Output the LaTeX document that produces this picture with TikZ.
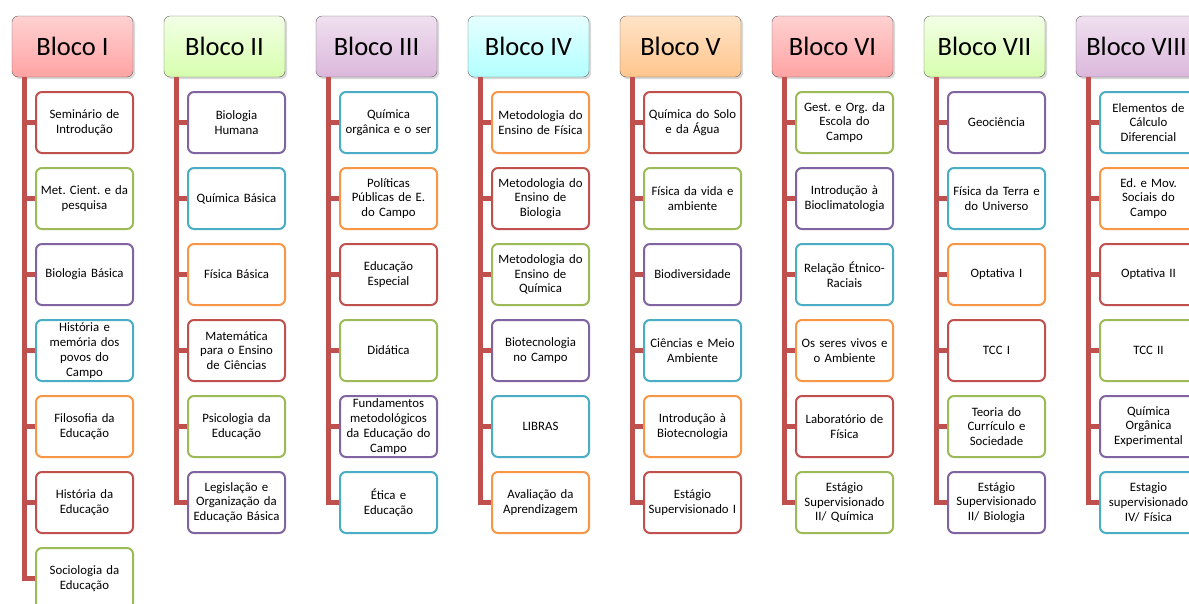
\documentclass[tikz,border=0pt]{standalone}
\usepackage{fontspec}
\setmainfont{Carlito}
\usepackage{xcolor}
\usepackage{tikz}
\usetikzlibrary{shadows}
\definecolor{ored}{HTML}{C0504D}
\definecolor{ogreen}{HTML}{9BBB59}
\definecolor{opurple}{HTML}{8064A2}
\definecolor{oaqua}{HTML}{4BACC6}
\definecolor{oorange}{HTML}{F79646}
\definecolor{edge}{HTML}{5F5F5F}
\frenchspacing

\begin{document}
\begin{tikzpicture}[x=1pt, y=-1pt,
  bloco/.style={rectangle, draw=edge, rounded corners=6pt, minimum width=121pt, minimum height=61pt, inner sep=0pt, font=\fontsize{26.5}{30}\selectfont, drop shadow={opacity=0.3, shadow xshift=2pt, shadow yshift=-2pt}},
  rosa/.style={bloco, top color=red!18, bottom color=red!36},
  verde/.style={bloco, top color=green!50!yellow!10, bottom color=green!50!yellow!32},
  lilas/.style={bloco, top color=violet!12, bottom color=violet!28},
  ciano/.style={bloco, top color=cyan!10, bottom color=cyan!30},
  laranja/.style={bloco, top color=orange!22, bottom color=orange!45},
  materia/.style={rectangle, draw=#1, line width=2pt, fill=white, rounded corners=6pt, minimum width=97pt, minimum height=61pt, text width=95pt, align=center, inner sep=0pt, font=\fontsize{12.8}{14.8}\selectfont},
  bar/.style={draw=ored, line width=5pt, line join=miter}
]
  \useasboundingbox (0,0) rectangle (1189,603);
  \clip (0,0) rectangle (1189,603);

  % Headers
  \node[rosa] (bloco1) at (72.5,46.5) {Bloco I};
  \node[verde] (bloco2) at (224.5,46.5) {Bloco II};
  \node[lilas] (bloco3) at (376.5,46.5) {Bloco III};
  \node[ciano] (bloco4) at (528.5,46.5) {Bloco IV};
  \node[laranja] (bloco5) at (680.5,46.5) {Bloco V};
  \node[rosa] (bloco6) at (832.5,46.5) {Bloco VI};
  \node[verde] (bloco7) at (984.5,46.5) {Bloco VII};
  \node[lilas] (bloco8) at (1136.5,46.5) {Bloco VIII};

  % Bloco I
  \node[materia=ored] (b1-1) at (84.5,122.5) {Seminário de\\Introdução};
  \node[materia=ogreen] (b1-2) at (84.5,198.5) {Met. Cient. e da\\pesquisa};
  \node[materia=opurple] (b1-3) at (84.5,274.5) {Biologia Básica};
  \node[materia=oaqua] (b1-4) at (84.5,350.5) {História e\\memória dos\\povos do\\Campo};
  \node[materia=oorange] (b1-5) at (84.5,426.5) {Filosofia da\\Educação};
  \node[materia=ored] (b1-6) at (84.5,502.5) {História da\\Educação};
  \node[materia=ogreen] (b1-7) at (84.5,578.5) {Sociologia da\\Educação};

  % Bloco II
  \node[materia=opurple] (b2-1) at (236.5,122.5) {Biologia\\Humana};
  \node[materia=oaqua] (b2-2) at (236.5,198.5) {Química Básica};
  \node[materia=oorange] (b2-3) at (236.5,274.5) {Física Básica};
  \node[materia=ored] (b2-4) at (236.5,350.5) {Matemática\\para o Ensino\\de Ciências};
  \node[materia=ogreen] (b2-5) at (236.5,426.5) {Psicologia da\\Educação};
  \node[materia=opurple] (b2-6) at (236.5,502.5) {Legislação e\\Organização da\\Educação Básica};

  % Bloco III
  \node[materia=oaqua] (b3-1) at (388.5,122.5) {Química\\orgânica e o ser};
  \node[materia=oorange] (b3-2) at (388.5,198.5) {Políticas\\Públicas de E.\\do Campo};
  \node[materia=ored] (b3-3) at (388.5,274.5) {Educação\\Especial};
  \node[materia=ogreen] (b3-4) at (388.5,350.5) {Didática};
  \node[materia=opurple] (b3-5) at (388.5,426.5) {Fundamentos\\metodológicos\\da Educação do\\Campo};
  \node[materia=oaqua] (b3-6) at (388.5,502.5) {Ética e\\Educação};

  % Bloco IV
  \node[materia=oorange] (b4-1) at (540.5,122.5) {Metodologia do\\Ensino de Física};
  \node[materia=ored] (b4-2) at (540.5,198.5) {Metodologia do\\Ensino de\\Biologia};
  \node[materia=ogreen] (b4-3) at (540.5,274.5) {Metodologia do\\Ensino de\\Química};
  \node[materia=opurple] (b4-4) at (540.5,350.5) {Biotecnologia\\no Campo};
  \node[materia=oaqua] (b4-5) at (540.5,426.5) {LIBRAS};
  \node[materia=oorange] (b4-6) at (540.5,502.5) {Avaliação da\\Aprendizagem};

  % Bloco V
  \node[materia=ored] (b5-1) at (692.5,122.5) {Química do Solo\\e da Água};
  \node[materia=ogreen] (b5-2) at (692.5,198.5) {Física da vida e\\ambiente};
  \node[materia=opurple] (b5-3) at (692.5,274.5) {Biodiversidade};
  \node[materia=oaqua] (b5-4) at (692.5,350.5) {Ciências e Meio\\Ambiente};
  \node[materia=oorange] (b5-5) at (692.5,426.5) {Introdução à\\Biotecnologia};
  \node[materia=ored] (b5-6) at (692.5,502.5) {Estágio\\Supervisionado I};

  % Bloco VI
  \node[materia=ogreen] (b6-1) at (844.5,122.5) {Gest. e Org. da\\Escola do\\Campo};
  \node[materia=opurple] (b6-2) at (844.5,198.5) {Introdução à\\Bioclimatologia};
  \node[materia=oaqua] (b6-3) at (844.5,274.5) {Relação Étnico-\\Raciais};
  \node[materia=oorange] (b6-4) at (844.5,350.5) {Os seres vivos e\\o Ambiente};
  \node[materia=ored] (b6-5) at (844.5,426.5) {Laboratório de\\Física};
  \node[materia=ogreen] (b6-6) at (844.5,502.5) {Estágio\\Supervisionado\\II/ Química};

  % Bloco VII
  \node[materia=opurple] (b7-1) at (996.5,122.5) {Geociência};
  \node[materia=oaqua] (b7-2) at (996.5,198.5) {Física da Terra e\\do Universo};
  \node[materia=oorange] (b7-3) at (996.5,274.5) {Optativa I};
  \node[materia=ored] (b7-4) at (996.5,350.5) {TCC I};
  \node[materia=ogreen] (b7-5) at (996.5,426.5) {Teoria do\\Currículo e\\Sociedade};
  \node[materia=opurple] (b7-6) at (996.5,502.5) {Estágio\\Supervisionado\\II/ Biologia};

  % Bloco VIII
  \node[materia=oaqua] (b8-1) at (1148.5,122.5) {Elementos de\\Cálculo\\Diferencial};
  \node[materia=oorange] (b8-2) at (1148.5,198.5) {Ed. e Mov.\\Sociais do\\Campo};
  \node[materia=ored] (b8-3) at (1148.5,274.5) {Optativa II};
  \node[materia=ogreen] (b8-4) at (1148.5,350.5) {TCC II};
  \node[materia=opurple] (b8-5) at (1148.5,426.5) {Química\\Orgânica\\Experimental};
  \node[materia=oaqua] (b8-6) at (1148.5,502.5) {Estagio\\supervisionado\\IV/ Física};

  % Trunks from each header
  \coordinate (t1) at ([xshift=12.5pt]bloco1.south west);
  \coordinate (t2) at ([xshift=12.5pt]bloco2.south west);
  \coordinate (t3) at ([xshift=12.5pt]bloco3.south west);
  \coordinate (t4) at ([xshift=12.5pt]bloco4.south west);
  \coordinate (t5) at ([xshift=12.5pt]bloco5.south west);
  \coordinate (t6) at ([xshift=12.5pt]bloco6.south west);
  \coordinate (t7) at ([xshift=12.5pt]bloco7.south west);
  \coordinate (t8) at ([xshift=12.5pt]bloco8.south west);

  \draw[bar] (t1) |- (b1-1.west) (t1) |- (b1-2.west) (t1) |- (b1-3.west) (t1) |- (b1-4.west) (t1) |- (b1-5.west) (t1) |- (b1-6.west) (t1) |- (b1-7.west);
  \draw[bar] (t2) |- (b2-1.west) (t2) |- (b2-2.west) (t2) |- (b2-3.west) (t2) |- (b2-4.west) (t2) |- (b2-5.west) (t2) |- (b2-6.west);
  \draw[bar] (t3) |- (b3-1.west) (t3) |- (b3-2.west) (t3) |- (b3-3.west) (t3) |- (b3-4.west) (t3) |- (b3-5.west) (t3) |- (b3-6.west);
  \draw[bar] (t4) |- (b4-1.west) (t4) |- (b4-2.west) (t4) |- (b4-3.west) (t4) |- (b4-4.west) (t4) |- (b4-5.west) (t4) |- (b4-6.west);
  \draw[bar] (t5) |- (b5-1.west) (t5) |- (b5-2.west) (t5) |- (b5-3.west) (t5) |- (b5-4.west) (t5) |- (b5-5.west) (t5) |- (b5-6.west);
  \draw[bar] (t6) |- (b6-1.west) (t6) |- (b6-2.west) (t6) |- (b6-3.west) (t6) |- (b6-4.west) (t6) |- (b6-5.west) (t6) |- (b6-6.west);
  \draw[bar] (t7) |- (b7-1.west) (t7) |- (b7-2.west) (t7) |- (b7-3.west) (t7) |- (b7-4.west) (t7) |- (b7-5.west) (t7) |- (b7-6.west);
  \draw[bar] (t8) |- (b8-1.west) (t8) |- (b8-2.west) (t8) |- (b8-3.west) (t8) |- (b8-4.west) (t8) |- (b8-5.west) (t8) |- (b8-6.west);

\end{tikzpicture}
\end{document}
